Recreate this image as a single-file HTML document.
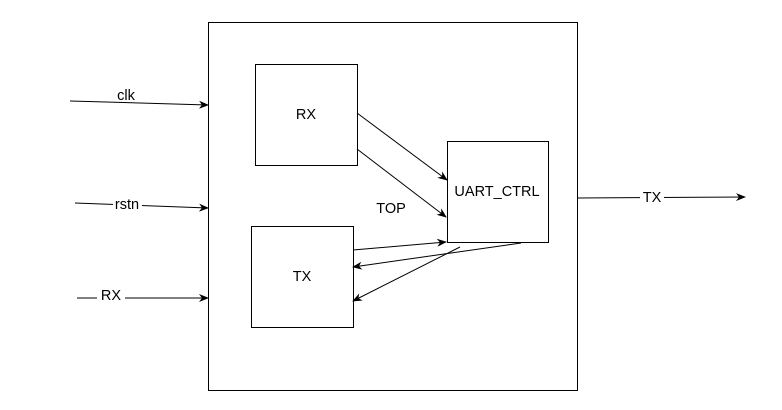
<!DOCTYPE html>
<html><head><style>body{margin:0;background:#fff}svg{display:block}text{font-family:"Liberation Sans",sans-serif;font-size:14.5px;fill:#000}</style></head>
<body>
<svg width="782" height="410" viewBox="0 0 782 410">
<defs><marker id="a" markerWidth="10" markerHeight="8" refX="9" refY="4" orient="auto" markerUnits="userSpaceOnUse"><path d="M0,0 L10,4 L0,8 L3,4 Z" fill="#000"/></marker></defs>
<g fill="#fff" stroke="#000" stroke-width="1">
<rect x="208.5" y="22.5" width="369" height="368"/>
<rect x="255.5" y="64.5" width="102" height="101"/>
<rect x="251.5" y="226.5" width="102" height="101"/>
<rect x="447.5" y="141.5" width="101" height="101"/>
</g>
<g stroke="#000" stroke-width="1" fill="none" marker-end="url(#a)">
<line x1="70" y1="101" x2="208" y2="105"/>
<line x1="75" y1="203" x2="208" y2="208"/>
<line x1="77" y1="298" x2="208" y2="298"/>
<line x1="578" y1="198" x2="745" y2="197"/>
<line x1="357" y1="113" x2="447" y2="180"/>
<line x1="357" y1="149" x2="446" y2="217"/>
<line x1="353" y1="250" x2="446" y2="242"/>
<line x1="521" y1="243" x2="353" y2="267"/>
<line x1="460" y1="247" x2="353" y2="301"/>
</g>
<g text-anchor="middle">
<rect x="113" y="198" width="29" height="11" fill="#fff"/>
<rect x="97" y="289" width="28" height="11" fill="#fff"/>
<rect x="640" y="191" width="24" height="11" fill="#fff"/>
<text x="126" y="100">clk</text>
<text x="127" y="209">rstn</text>
<text x="111" y="300">RX</text>
<text x="652" y="202">TX</text>
<text x="306" y="119">RX</text>
<text x="302" y="281">TX</text>
<text x="497" y="196">UART_CTRL</text>
<text x="391" y="213">TOP</text>
</g>
</svg>
</body></html>
